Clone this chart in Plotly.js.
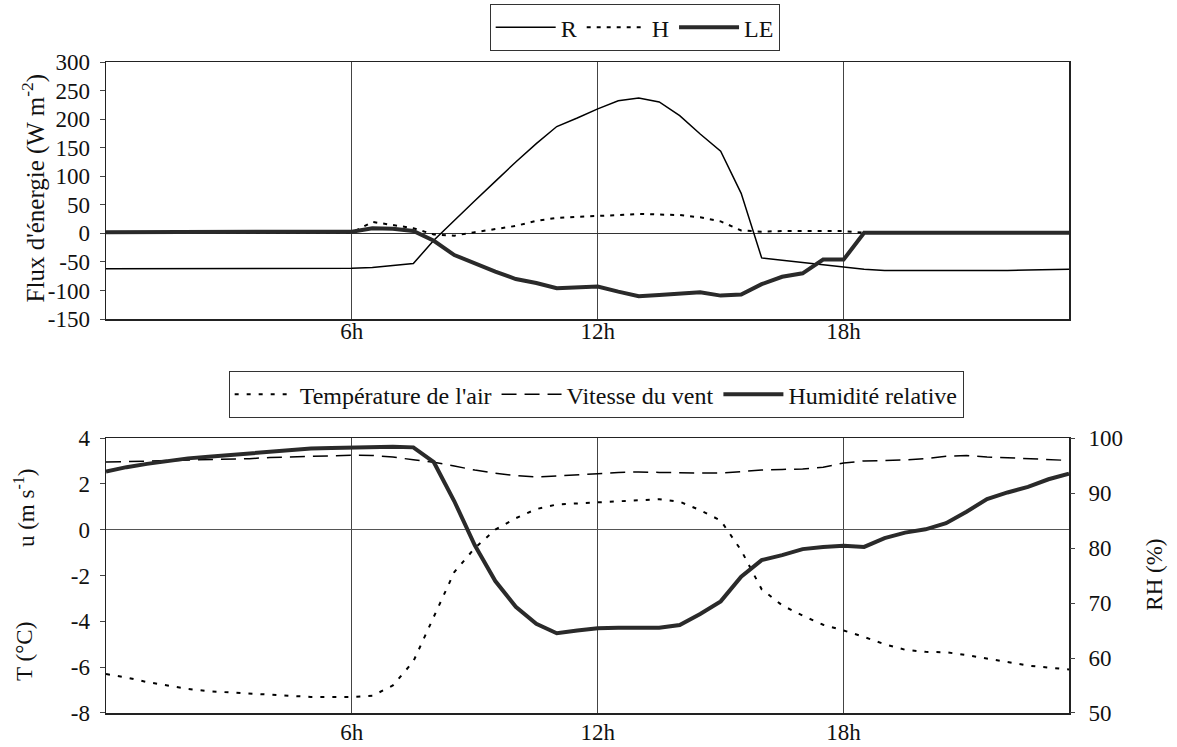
<!DOCTYPE html>
<html>
<head>
<meta charset="utf-8">
<script src="https://cdn.plot.ly/plotly-3.0.1.min.js"></script>
<style>
  html, body { margin: 0; padding: 0; background: #ffffff; }
  #chart { width: 1177px; height: 747px; }
</style>
</head>
<body>
<div id="chart"></div>
<script>
// Time of day (hours), half-hourly
const hours = [0,0.5,1,1.5,2,2.5,3,3.5,4,4.5,5,5.5,6,6.5,7,7.5,8,8.5,9,9.5,10,10.5,11,11.5,
               12,12.5,13,13.5,14,14.5,15,15.5,16,16.5,17,17.5,18,18.5,19,19.5,20,20.5,21,21.5,22,22.5,23,23.5];

// Top panel: energy fluxes (W m-2)
const R  = [-62,-62,-62,-62,-62,-62,-62,-62,-62,-62,-62,-61,-61,-60,-57,-53,-12,23,57,91,125,157,187,202,
            218,232,237,230,206,174,144,70,-43,-47,-51,-55,-59,-63,-65,-65,-66,-66,-66,-66,-65,-64,-63,-63];
const H  = [1,1,1,1,1,1,1,1,1,1,1,1,1,20,15,9,-2,-4,2,8,13,22,27,29,
            30,32,34,33,32,28,21,5,3,4,4,4,4,1,1,1,1,1,1,1,1,1,1,1];
const LE = [2,2,2,2,2,2,2,2,2,2,2,2,3,9,8,4,-13,-38,-53,-67,-80,-87,-96,-94,
            -93,-102,-110,-108,-106,-103,-109,-107,-89,-76,-70,-46,-46,1,1,1,1,1,1,1,1,1,1,1];

// Bottom panel: air temperature (°C), wind speed (m s-1), relative humidity (%)
const Tair = [-6.3,-6.45,-6.65,-6.8,-6.95,-7.05,-7.1,-7.15,-7.2,-7.25,-7.3,-7.3,-7.3,-7.25,-6.8,-5.75,-3.8,-1.85,-0.8,0.0,0.5,0.9,1.1,1.15,
              1.2,1.25,1.28,1.33,1.22,0.85,0.4,-0.9,-2.6,-3.3,-3.75,-4.15,-4.4,-4.68,-5.0,-5.24,-5.33,-5.35,-5.47,-5.62,-5.78,-5.93,-6.02,-6.1];
const wind = [2.95,2.97,2.98,3.0,3.02,3.05,3.08,3.1,3.15,3.18,3.2,3.22,3.25,3.24,3.17,3.05,2.94,2.78,2.6,2.46,2.36,2.3,2.34,2.4,
              2.44,2.5,2.52,2.5,2.47,2.47,2.47,2.55,2.6,2.63,2.65,2.72,2.91,3.0,3.02,3.04,3.1,3.2,3.24,3.17,3.14,3.1,3.03,3.02];
const RH = [93.9,94.7,95.3,95.8,96.3,96.6,96.9,97.2,97.5,97.9,98.1,98.2,98.3,98.4,98.4,98.3,95.6,88.5,80.5,74.0,69.3,66.2,64.5,65.0,
            65.4,65.5,65.5,65.5,66.0,68.0,70.3,74.8,77.8,78.7,79.8,80.2,80.4,80.2,81.8,82.8,83.4,84.5,86.6,88.9,90.1,91.1,92.5,93.5];

// Tick labels
const xTickVals = [6, 12, 18];
const xTickText = ["6h", "12h", "18h"];
const fluxTickVals = [-150,-100,-50,0,50,100,150,200,250,300];
const fluxTickText = ["-150","-100","-50","0","50","100","150","200","250","300"];
const uTickVals = [-8,-6,-4,-2,0,2,4];
const uTickText = ["-8","-6","-4","-2","0","2","4"];
const rhTickVals = [50,60,70,80,90,100];
const rhTickText = ["50","60","70","80","90","100"];

const FONT = "Liberation Serif";
const FS = 23;
const TXT = "#111";

const traces = [
  {x: hours, y: R, name: "R", type: "scatter", mode: "lines", xaxis: "x", yaxis: "y",
   line: {color: "#000", width: 1.5}, legend: "legend"},
  {x: hours, y: H, name: "H", type: "scatter", mode: "lines", xaxis: "x", yaxis: "y",
   line: {color: "#000", width: 2, dash: "4px,6px"}, legend: "legend"},
  {x: hours, y: LE, name: "LE", type: "scatter", mode: "lines", xaxis: "x", yaxis: "y",
   line: {color: "#2a2a2a", width: 4}, legend: "legend"},
  {x: hours, y: Tair, name: "Température de l'air", type: "scatter", mode: "lines", xaxis: "x2", yaxis: "y2",
   line: {color: "#000", width: 2, dash: "4px,8px"}, legend: "legend2"},
  {x: hours, y: wind, name: "Vitesse du vent", type: "scatter", mode: "lines", xaxis: "x2", yaxis: "y2",
   line: {color: "#000", width: 1.5, dash: "15px,8px"}, legend: "legend2"},
  {x: hours, y: RH, name: "Humidité relative", type: "scatter", mode: "lines", xaxis: "x2", yaxis: "y3",
   line: {color: "#2a2a2a", width: 4}, legend: "legend2"}
];

const xCommon = {
  range: [0, 23.5], tickvals: xTickVals, ticktext: xTickText, ticks: "",
  showgrid: true, gridcolor: "#444", gridwidth: 1, zeroline: false,
  showline: true, mirror: true, linecolor: "#222", linewidth: 1.5,
  tickfont: {family: FONT, size: FS, color: TXT}
};

const yCommon = {
  ticks: "outside", ticklen: 5, tickcolor: "#444", showgrid: false,
  tickfont: {family: FONT, size: FS, color: TXT}, ticklabelstandoff: 5
};

const layout = {
  width: 1177, height: 747,
  paper_bgcolor: "#fff", plot_bgcolor: "#fff",
  margin: {l: 106, r: 108, t: 62, b: 34, autoexpand: false},
  font: {family: FONT, size: FS, color: TXT},
  showlegend: true,
  xaxis: Object.assign({}, xCommon, {anchor: "y", ticklabelstandoff: -9}),
  xaxis2: Object.assign({}, xCommon, {anchor: "y2", ticklabelstandoff: -2}),
  yaxis: Object.assign({}, yCommon, {
    domain: [0.6052, 1], range: [-150, 300], tickvals: fluxTickVals, ticktext: fluxTickText,
    zeroline: true, zerolinecolor: "#333", zerolinewidth: 1,
    showline: true, mirror: true, linecolor: "#222", linewidth: 1.5
  }),
  yaxis2: Object.assign({}, yCommon, {
    domain: [0, 0.4224], range: [-8, 4], tickvals: uTickVals, ticktext: uTickText,
    zeroline: true, zerolinecolor: "#555", zerolinewidth: 1,
    showline: true, mirror: true, linecolor: "#222", linewidth: 1.5
  }),
  yaxis3: Object.assign({}, yCommon, {
    overlaying: "y2", side: "right", anchor: "x2", range: [50, 100],
    tickvals: rhTickVals, ticktext: rhTickText, zeroline: false, showline: false,
    ticklabelstandoff: 9
  }),
  legend: {
    orientation: "h", x: 0.549, xanchor: "center", y: 1.089, yanchor: "top",
    bordercolor: "#333", borderwidth: 1, bgcolor: "#fff",
    font: {family: FONT, size: 24, color: TXT}, itemwidth: 60, tracegroupgap: 0
  },
  legend2: {
    orientation: "h", x: 0.509, xanchor: "center", y: 0.525, yanchor: "top",
    bordercolor: "#333", borderwidth: 1, bgcolor: "#fff",
    font: {family: FONT, size: 24, color: TXT}, itemwidth: 60, tracegroupgap: 0
  },
  annotations: [
    {text: "Flux d'énergie (W m<sup>-2</sup>)", xref: "paper", yref: "paper",
     x: -0.075, y: 0.807, xanchor: "center", yanchor: "middle", textangle: -90, showarrow: false,
     font: {family: FONT, size: 25, color: TXT}},
    {text: "u (m s<sup>-1</sup>)", xref: "paper", yref: "paper",
     x: -0.084, y: 0.315, xanchor: "center", yanchor: "middle", textangle: -90, showarrow: false,
     font: {family: FONT, size: FS, color: TXT}},
    {text: "T (°C)", xref: "paper", yref: "paper",
     x: -0.084, y: 0.094, xanchor: "center", yanchor: "middle", textangle: -90, showarrow: false,
     font: {family: FONT, size: FS, color: TXT}},
    {text: "RH (%)", xref: "paper", yref: "paper",
     x: 1.089, y: 0.212, xanchor: "center", yanchor: "middle", textangle: -90, showarrow: false,
     font: {family: FONT, size: FS, color: TXT}}
  ]
};

Plotly.newPlot("chart", traces, layout, {displayModeBar: false, staticPlot: true});
</script>
</body>
</html>
